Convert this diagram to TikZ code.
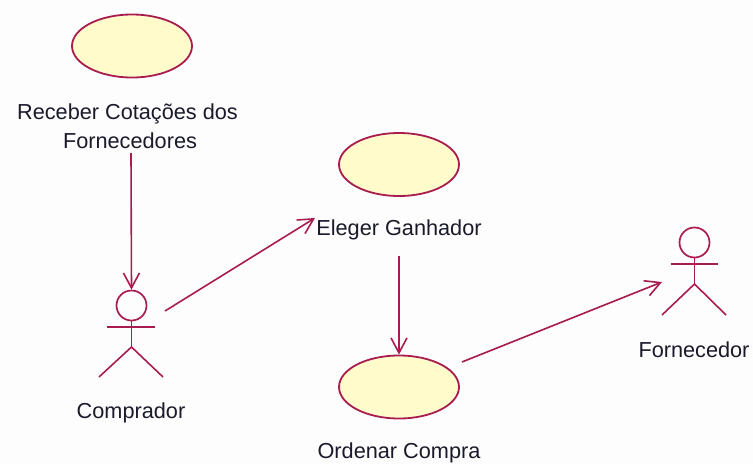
\documentclass[tikz,border=0pt]{standalone}
\usepackage{fontspec}
\setmainfont{Liberation Sans}
\usetikzlibrary{arrows.meta,shapes.geometric}
\definecolor{umlline}{HTML}{A81C50}
\definecolor{umlfill}{HTML}{FFFBCB}
\definecolor{umlbg}{HTML}{FDFDFD}
\definecolor{umltext}{HTML}{1A1A2A}
\tikzset{
  usecase/.style={ellipse,draw=umlline,fill=umlfill,line width=1.8pt,minimum width=120pt,minimum height=63pt,inner sep=0pt},
  actorhead/.style={circle,draw=umlline,line width=1.7pt,minimum size=30pt,inner sep=0pt},
  limb/.style={draw=umlline,line width=1.6pt},
  assoc/.style={draw=umlline,line width=1.6pt,-{Straight Barb[length=15pt,width=16pt,line width=1.6pt]}},
  lbl/.style={text=umltext,font=\fontsize{21.7}{27}\selectfont,align=center,inner sep=0pt},
}
\begin{document}
\begin{tikzpicture}[x=1pt,y=-1pt]
\fill[umlbg] (0,0) rectangle (753,464);
\useasboundingbox (0,0) rectangle (753,464);
% use cases
\node[usecase] (ucA) at (132,46) {};
\node[usecase] (ucB) at (399,164.5) {};
\node[usecase] (ucC) at (399,387) {};
% labels
\node[lbl] (lA1) at (127.5,114) {Receber Cotações dos};
\node[lbl] (lA2) at (130,140.5) {Fornecedores};
\node[lbl] (lB) at (399,230) {Eleger Ganhador};
\node[lbl] (lC) at (399,453) {Ordenar Compra};
\node[lbl] (lD) at (131,412.5) {Comprador};
\node[lbl] (lE) at (694,349.5) {Fornecedor};
% actor Comprador
\node[actorhead] (hD) at (131.5,305.5) {};
\coordinate (aDl) at (107,327);
\coordinate (aDr) at (155,327);
\coordinate (wD) at (131.5,347);
\coordinate (fDl) at (99,377);
\coordinate (fDr) at (163,377);
\draw[limb] (hD.south) -- (wD);
\draw[limb] (aDl) -- (aDr);
\draw[limb] (fDl) -- (wD) -- (fDr);
% actor Fornecedor
\node[actorhead] (hE) at (694.5,242.5) {};
\coordinate (aEl) at (670.5,264);
\coordinate (aEr) at (717.5,264);
\coordinate (wE) at (694.5,284);
\coordinate (fEl) at (662,315);
\coordinate (fEr) at (726,315);
\draw[limb] (hE.south) -- (wE);
\draw[limb] (aEl) -- (aEr);
\draw[limb] (fEl) -- (wE) -- (fEr);
% connectors
\coordinate (s1) at (131,153);
\coordinate (s2) at (165,311);
\coordinate (e2) at (315,218);
\coordinate (s3) at (399,256);
\coordinate (s4) at (462,362);
\coordinate (e4) at (662,282);
\draw[assoc] (s1) -- (hD.north);
\draw[assoc] (s2) -- (e2);
\draw[assoc] (s3) -- (ucC.north);
\draw[assoc] (s4) -- (e4);
\end{tikzpicture}
\end{document}
